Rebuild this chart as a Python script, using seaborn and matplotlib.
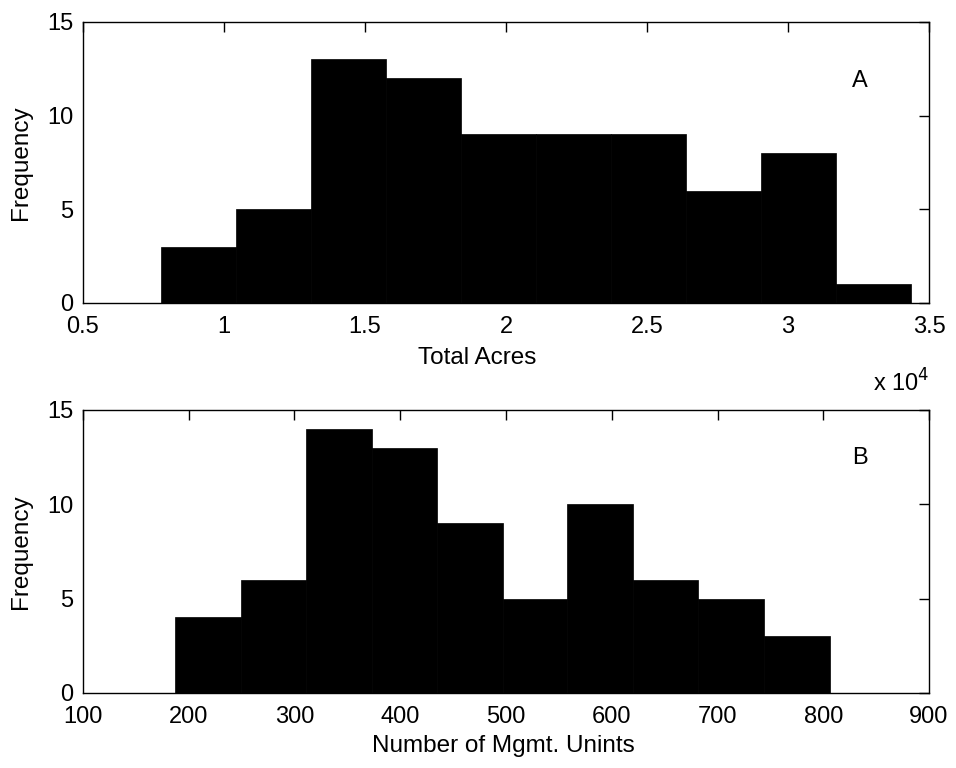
import matplotlib
matplotlib.use("Agg")
import matplotlib.pyplot as plt
import seaborn as sns

# panel A: total acres, bin edges and counts
acres_edges = [7770, 10430, 13090, 15750, 18400, 21060, 23720, 26380, 29040, 31700, 34360]
acres_counts = [3, 5, 13, 12, 9, 9, 9, 6, 8, 1]
acres_ticks = [5000, 10000, 15000, 20000, 25000, 30000, 35000]
acres_ticklabels = ['0.5', '1', '1.5', '2', '2.5', '3', '3.5']

# panel B: number of management units
units_edges = [187, 249, 311, 373, 435, 497, 558, 620, 682, 744, 806]
units_counts = [4, 6, 14, 13, 9, 5, 10, 6, 5, 3]
units_ticks = [100, 200, 300, 400, 500, 600, 700, 800, 900]

y_ticks = [0, 5, 10, 15]

sns.set_style("white")
plt.rcParams['font.family'] = ['Liberation Sans', 'DejaVu Sans']
plt.rcParams['font.size'] = 17
plt.rcParams['text.color'] = 'black'
plt.rcParams['axes.labelcolor'] = 'black'
plt.rcParams['xtick.color'] = 'black'
plt.rcParams['ytick.color'] = 'black'

fig = plt.figure(figsize=(9.56, 7.68), dpi=100)
ax1 = fig.add_axes([0.0868, 0.6055, 0.885, 0.366])
ax2 = fig.add_axes([0.0868, 0.0977, 0.885, 0.3685])


def centers(edges):
    return [(edges[i] + edges[i + 1]) / 2 for i in range(len(edges) - 1)]


sns.histplot(x=centers(acres_edges), weights=acres_counts, bins=acres_edges,
             color='black', edgecolor='black', alpha=1, linewidth=0.5, ax=ax1)
sns.histplot(x=centers(units_edges), weights=units_counts, bins=units_edges,
             color='black', edgecolor='black', alpha=1, linewidth=0.5, ax=ax2)

for ax in (ax1, ax2):
    ax.set_ylim(0, 15)
    ax.set_yticks(y_ticks)
    ax.set_ylabel('Frequency', fontsize=17.5)
    ax.tick_params(direction='in', top=True, right=True, length=7, width=1,
                   labelsize=17, colors='black')
    ax.tick_params(axis='y', pad=7)
    ax.tick_params(axis='x', pad=9.5)
    for s in ax.spines.values():
        s.set_color('black')
        s.set_linewidth(1)
    ax.yaxis.set_label_coords(-0.060, 0.5)

ax1.set_xlim(5000, 35000)
ax1.set_xticks(acres_ticks)
ax1.set_xticklabels(acres_ticklabels)
ax1.set_xlabel('Total Acres', fontsize=17.5)
ax1.xaxis.set_label_coords(0.466, -0.155)
ax1.text(0.918, 0.79, 'A', transform=ax1.transAxes, fontsize=17, ha='center', va='center')
ax1.text(1.0, -0.285, r'x 10$^4$', transform=ax1.transAxes, fontsize=17, ha='right', va='center')

ax2.set_xlim(100, 900)
ax2.set_xticks(units_ticks)
ax2.set_xlabel('Number of Mgmt. Unints', fontsize=17.5)
ax2.xaxis.set_label_coords(0.497, -0.15)
ax2.text(0.918, 0.83, 'B', transform=ax2.transAxes, fontsize=17, ha='center', va='center')

fig.savefig('out.png', dpi=100)
